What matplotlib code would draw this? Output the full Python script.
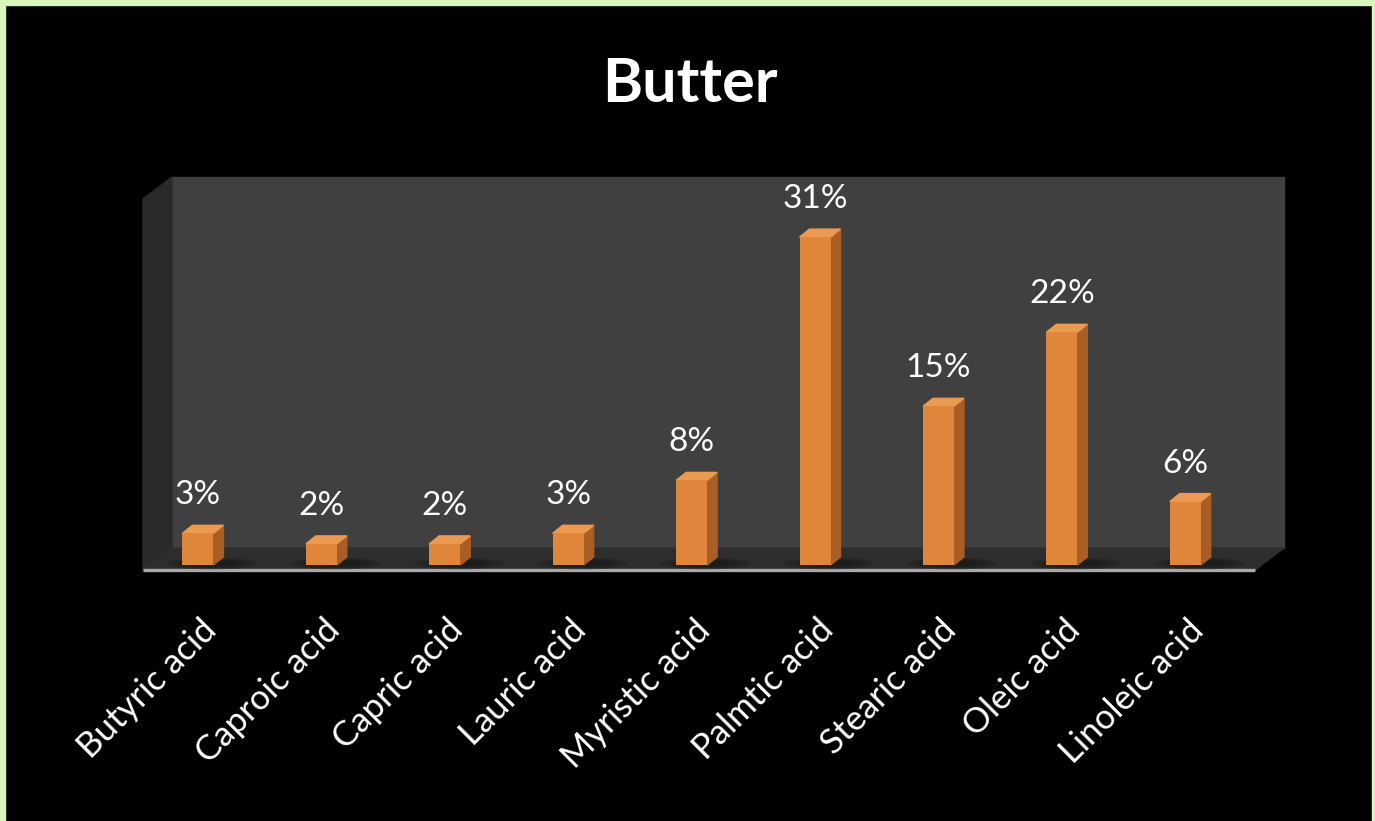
import numpy as np
import matplotlib.pyplot as plt
from matplotlib.patches import Polygon, Rectangle, Ellipse

acids = ['Butyric acid', 'Caproic acid', 'Capric acid', 'Lauric acid', 'Myristic acid',
         'Palmtic acid', 'Stearic acid', 'Oleic acid', 'Linoleic acid']
percent = [3, 2, 2, 3, 8, 31, 15, 22, 6]
value_labels = ['3%', '2%', '2%', '3%', '8%', '31%', '15%', '22%', '6%']

W, H = 1375, 821
fig = plt.figure(figsize=(W / 100, H / 100), dpi=100)
fig.patch.set_facecolor('black')
plt.rcParams['font.family'] = ['Lato', 'DejaVu Sans']

# light green frame (left, top, right)
frame_col = '#d8f6bd'
fig.add_artist(Rectangle((0, 0), 5 / W, 1, transform=fig.transFigure, color=frame_col, zorder=10))
fig.add_artist(Rectangle((0, 1 - 5 / H), 1, 5 / H, transform=fig.transFigure, color=frame_col, zorder=10))
fig.add_artist(Rectangle((1 - 3 / W, 0), 3 / W, 1, transform=fig.transFigure, color=frame_col, zorder=10))

fig.text(690 / W, 1 - 102 / H, 'Butter', ha='center', va='baseline',
         color='white', fontsize=44, fontweight='bold')

# front plane of the 3d box, in pixels: x 143..1255, y 199..570
ax = fig.add_axes([143 / W, (H - 570) / H, 1112 / W, 371 / H])
ax.set_facecolor('none')
ax.axis('off')
x0, x1 = -0.445, 8.565
y0, y1 = -0.47, 34.6
ax.set_xlim(x0, x1)
ax.set_ylim(y0, y1)
sx = 1112 / (x1 - x0)   # px per category
sy = 371 / (y1 - y0)    # px per percent

# box: back wall, side wall, floor
ddx, ddy = 29 / sx, 22 / sy
ax.add_patch(Rectangle((x0 + ddx, y0 + ddy), x1 - x0, y1 - y0, color='#404040', zorder=0, clip_on=False))
ax.add_patch(Polygon([(x0, y0), (x0 + ddx, y0 + ddy), (x0 + ddx, y1 + ddy), (x0, y1)],
                     closed=True, color='#2a2a2a', zorder=0, clip_on=False))
ax.add_patch(Polygon([(x0, y0), (x1, y0), (x1 + ddx, y0 + ddy), (x0 + ddx, y0 + ddy)],
                     closed=True, color='#2e2e2e', zorder=1, clip_on=False))
ax.plot([x0, x1], [y0, y0], color='#a8a8a8', lw=2.4, solid_capstyle='butt', zorder=2, clip_on=False)

# bars with a little depth
x = np.arange(len(acids))
bw = 31 / sx
bdx, bdy = 10 / sx, 8 / sy
for xi in x:
    # soft shadow on the floor
    for k, (wpx, hpx) in enumerate([(90, 12), (70, 9), (50, 6)]):
        ax.add_patch(Ellipse((xi + 14 / sx, 0.15), wpx / sx, hpx / sy, color='#111111',
                             alpha=0.25, lw=0, zorder=2, clip_on=False))
ax.bar(x, percent, width=bw, color='#e0863b', zorder=4, clip_on=False)
for xi, v in zip(x, percent):
    xl, xr = xi - bw / 2, xi + bw / 2
    ax.add_patch(Polygon([(xr, 0), (xr + bdx, bdy), (xr + bdx, v + bdy), (xr, v)],
                         closed=True, color='#a85e24', zorder=3, clip_on=False))
    ax.add_patch(Polygon([(xl, v), (xr, v), (xr + bdx, v + bdy), (xl + bdx, v + bdy)],
                         closed=True, color='#eb9a52', zorder=3, clip_on=False))

for xi, v, lbl in zip(x, percent, value_labels):
    ax.text(xi, v + 29 / sy, lbl, ha='center', va='baseline', color='white', fontsize=24, zorder=5)

# rotated category labels, end anchored just right of each bar
for xi, name in zip(x, acids):
    ax.text(xi + 13 / sx, y0 - 55 / sy, name, rotation=45, rotation_mode='anchor',
            ha='right', va='center', color='white', fontsize=25, clip_on=False)

fig.savefig('out.png', dpi=100, facecolor=fig.get_facecolor())
